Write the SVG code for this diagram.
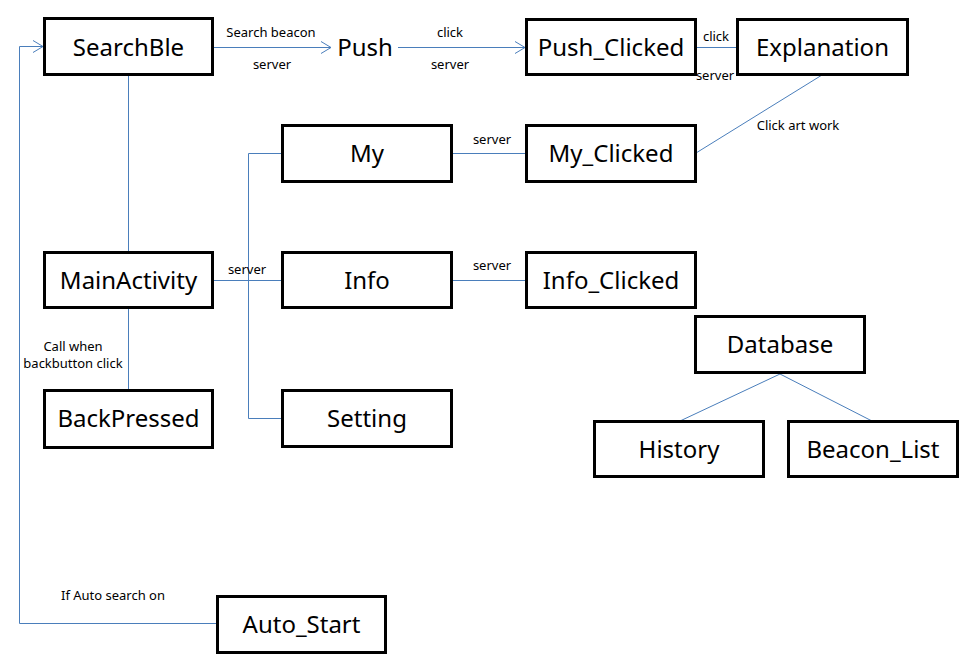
<svg xmlns="http://www.w3.org/2000/svg" width="977" height="659" viewBox="0 0 977 659">
<style>
.box{fill:#fff;stroke:#000;stroke-width:3}
.nt{font-family:"Noto Sans","Open Sans","DejaVu Sans",sans-serif;font-size:24px;fill:#000;text-anchor:middle}
.lb{font-family:"Noto Sans","Open Sans","DejaVu Sans",sans-serif;font-size:13px;fill:#000;text-anchor:middle}
.c{fill:none;stroke:#4a7ebb;stroke-width:1}
</style>
<defs>
<marker id="arr" markerWidth="14" markerHeight="14" refX="11" refY="7" orient="auto" markerUnits="userSpaceOnUse">
<path d="M1,1 L11,7 L1,13" fill="none" stroke="#4a7ebb" stroke-width="1"/>
</marker>
</defs>
<rect width="977" height="659" fill="#fff"/>
<g id="connectors">
<line class="c" x1="213" y1="47.5" x2="331" y2="47.5" marker-end="url(#arr)"/>
<line class="c" x1="398" y1="47.5" x2="525" y2="47.5" marker-end="url(#arr)"/>
<line class="c" x1="696" y1="47.5" x2="737" y2="47.5"/>
<line class="c" x1="822" y1="75" x2="696" y2="153"/>
<line class="c" x1="452" y1="153.5" x2="526" y2="153.5"/>
<line class="c" x1="452" y1="280.5" x2="526" y2="280.5"/>
<line class="c" x1="213" y1="280.5" x2="282" y2="280.5"/>
<polyline class="c" points="282,153.5 248.5,153.5 248.5,418.5 282,418.5"/>
<line class="c" x1="128.5" y1="75" x2="128.5" y2="252"/>
<line class="c" x1="128.5" y1="308" x2="128.5" y2="390"/>
<polyline class="c" points="217,623.5 19.5,623.5 19.5,46.5 43,46.5" marker-end="url(#arr)" stroke-width="1.5"/>
<line class="c" x1="780" y1="374" x2="680" y2="421"/>
<line class="c" x1="780" y1="374" x2="872" y2="421"/>
</g>
<g id="labels">
<text class="lb" x="271" y="37">Search beacon</text>
<text class="lb" x="272" y="69">server</text>
<text class="lb" x="450" y="37">click</text>
<text class="lb" x="450" y="69">server</text>
<text class="lb" x="716" y="41">click</text>
<text class="lb" x="715" y="80">server</text>
<text class="lb" x="798" y="130">Click art work</text>
<text class="lb" x="492" y="144">server</text>
<text class="lb" x="492" y="270">server</text>
<text class="lb" x="247" y="274">server</text>
<text class="lb" x="73" y="351">Call  when</text>
<text class="lb" x="73" y="368">backbutton  click</text>
<text class="lb" x="113" y="600">If Auto  search  on</text>
</g>
<g id="SearchBle"><rect class="box" x="44.5" y="18.5" width="168" height="56"/><text class="nt" x="128.5" y="56">SearchBle</text></g>
<g id="Push"><text class="nt" x="365" y="56">Push</text></g>
<g id="Push_Clicked"><rect class="box" x="526.5" y="19.5" width="169" height="55"/><text class="nt" x="611" y="56">Push_Clicked</text></g>
<g id="Explanation"><rect class="box" x="737.5" y="19.5" width="170" height="55"/><text class="nt" x="822.5" y="56">Explanation</text></g>
<g id="My"><rect class="box" x="282.5" y="125.5" width="169" height="56"/><text class="nt" x="367" y="162">My</text></g>
<g id="My_Clicked"><rect class="box" x="526.5" y="125.5" width="169" height="56"/><text class="nt" x="611" y="162">My_Clicked</text></g>
<g id="MainActivity"><rect class="box" x="44.5" y="252.5" width="168" height="55"/><text class="nt" x="128.5" y="289">MainActivity</text></g>
<g id="Info"><rect class="box" x="282.5" y="252.5" width="169" height="55"/><text class="nt" x="367" y="289">Info</text></g>
<g id="Info_Clicked"><rect class="box" x="526.5" y="252.5" width="169" height="55"/><text class="nt" x="611" y="289">Info_Clicked</text></g>
<g id="Database"><rect class="box" x="695.5" y="316.5" width="169" height="56"/><text class="nt" x="780" y="353">Database</text></g>
<g id="BackPressed"><rect class="box" x="44.5" y="390.5" width="168" height="57"/><text class="nt" x="128.5" y="427">BackPressed</text></g>
<g id="Setting"><rect class="box" x="282.5" y="390.5" width="169" height="56"/><text class="nt" x="367" y="427">Setting</text></g>
<g id="History"><rect class="box" x="594.5" y="421.5" width="169" height="55"/><text class="nt" x="679" y="458">History</text></g>
<g id="Beacon_List"><rect class="box" x="788.5" y="421.5" width="169" height="55"/><text class="nt" x="873" y="458">Beacon_List</text></g>
<g id="Auto_Start"><rect class="box" x="217.5" y="596.5" width="168" height="56"/><text class="nt" x="301.5" y="633">Auto_Start</text></g>
</svg>
